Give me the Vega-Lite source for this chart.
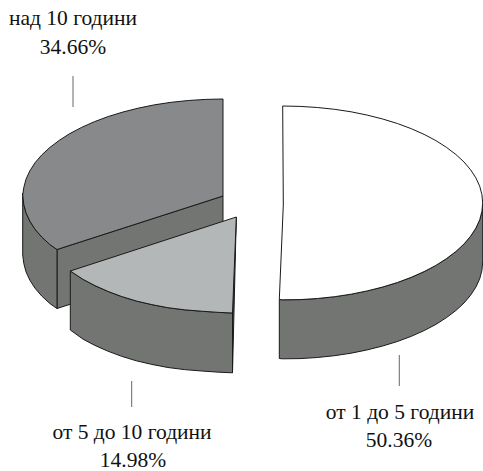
{"$schema":"https://vega.github.io/schema/vega-lite/v6.json","width":483,"height":471,"padding":0,"autosize":{"type":"none"},"background":"white","config":{"view":{"stroke":null}},
"datasets":{"outline":[
{"part":"a1","i":0,"x":482.7,"y":203},{"part":"a1","i":1,"x":481.9,"y":211.5},{"part":"a1","i":2,"x":479.7,"y":219.8},{"part":"a1","i":3,"x":475.9,"y":228.1},{"part":"a1","i":4,"x":470.6,"y":236.2},{"part":"a1","i":5,"x":464,"y":244},{"part":"a1","i":6,"x":455.9,"y":251.5},{"part":"a1","i":7,"x":446.5,"y":258.6},{"part":"a1","i":8,"x":435.9,"y":265.4},{"part":"a1","i":9,"x":424.1,"y":271.6},{"part":"a1","i":10,"x":411.3,"y":277.3},{"part":"a1","i":11,"x":397.4,"y":282.5},{"part":"a1","i":12,"x":382.7,"y":287},{"part":"a1","i":13,"x":367.2,"y":290.9},{"part":"a1","i":14,"x":351.1,"y":294.2},{"part":"a1","i":15,"x":334.5,"y":296.7},{"part":"a1","i":16,"x":317.4,"y":298.5},{"part":"a1","i":17,"x":300.1,"y":299.6},{"part":"a1","i":18,"x":282.7,"y":299.8},{"part":"a1","i":19,"x":279.3,"y":299.5},
{"part":"a1","i":20,"x":279.3,"y":358.5},{"part":"a1","i":21,"x":282.7,"y":358.8},{"part":"a1","i":22,"x":300.1,"y":358.6},{"part":"a1","i":23,"x":317.4,"y":357.5},{"part":"a1","i":24,"x":334.5,"y":355.7},{"part":"a1","i":25,"x":351.1,"y":353.2},{"part":"a1","i":26,"x":367.2,"y":349.9},{"part":"a1","i":27,"x":382.7,"y":346},{"part":"a1","i":28,"x":397.4,"y":341.5},{"part":"a1","i":29,"x":411.3,"y":336.3},{"part":"a1","i":30,"x":424.1,"y":330.6},{"part":"a1","i":31,"x":435.9,"y":324.4},{"part":"a1","i":32,"x":446.5,"y":317.6},{"part":"a1","i":33,"x":455.9,"y":310.5},{"part":"a1","i":34,"x":464,"y":303},{"part":"a1","i":35,"x":470.6,"y":295.2},{"part":"a1","i":36,"x":475.9,"y":287.1},{"part":"a1","i":37,"x":479.7,"y":278.8},{"part":"a1","i":38,"x":481.9,"y":270.5},{"part":"a1","i":39,"x":482.7,"y":262},{"part":"a1","i":40,"x":482.7,"y":203},
{"part":"a2","i":0,"x":282.7,"y":106},{"part":"a2","i":1,"x":300.1,"y":106.4},{"part":"a2","i":2,"x":317.4,"y":107.5},{"part":"a2","i":3,"x":334.5,"y":109.3},{"part":"a2","i":4,"x":351.1,"y":111.8},{"part":"a2","i":5,"x":367.2,"y":115.1},{"part":"a2","i":6,"x":382.7,"y":119},{"part":"a2","i":7,"x":397.4,"y":123.5},{"part":"a2","i":8,"x":411.3,"y":128.7},{"part":"a2","i":9,"x":424.1,"y":134.4},{"part":"a2","i":10,"x":435.9,"y":140.6},{"part":"a2","i":11,"x":446.5,"y":147.4},{"part":"a2","i":12,"x":455.9,"y":154.5},{"part":"a2","i":13,"x":464,"y":162},{"part":"a2","i":14,"x":470.6,"y":169.8},{"part":"a2","i":15,"x":475.9,"y":177.9},{"part":"a2","i":16,"x":479.7,"y":186.2},{"part":"a2","i":17,"x":481.9,"y":194.5},
{"part":"a2","i":18,"x":482.7,"y":203},{"part":"a2","i":19,"x":481.9,"y":211.5},{"part":"a2","i":20,"x":479.7,"y":219.8},{"part":"a2","i":21,"x":475.9,"y":228.1},{"part":"a2","i":22,"x":470.6,"y":236.2},{"part":"a2","i":23,"x":464,"y":244},{"part":"a2","i":24,"x":455.9,"y":251.5},{"part":"a2","i":25,"x":446.5,"y":258.6},{"part":"a2","i":26,"x":435.9,"y":265.4},{"part":"a2","i":27,"x":424.1,"y":271.6},{"part":"a2","i":28,"x":411.3,"y":277.3},{"part":"a2","i":29,"x":397.4,"y":282.5},{"part":"a2","i":30,"x":382.7,"y":287},{"part":"a2","i":31,"x":367.2,"y":290.9},{"part":"a2","i":32,"x":351.1,"y":294.2},{"part":"a2","i":33,"x":334.5,"y":296.7},{"part":"a2","i":34,"x":317.4,"y":298.5},{"part":"a2","i":35,"x":300.1,"y":299.6},{"part":"a2","i":36,"x":282.7,"y":299.8},{"part":"a2","i":37,"x":279.3,"y":299.5},{"part":"a2","i":38,"x":283.3,"y":205},{"part":"a2","i":39,"x":282.7,"y":106},
{"part":"b1","i":0,"x":57,"y":249.5},{"part":"b1","i":1,"x":223,"y":196},{"part":"b1","i":2,"x":223,"y":255},{"part":"b1","i":3,"x":57,"y":308.5},{"part":"b1","i":4,"x":57,"y":249.5},
{"part":"b2","i":0,"x":22.7,"y":193},{"part":"b2","i":1,"x":23.8,"y":204.5},{"part":"b2","i":2,"x":26,"y":212.8},{"part":"b2","i":3,"x":29.8,"y":221.1},{"part":"b2","i":4,"x":35,"y":229.2},{"part":"b2","i":5,"x":41.7,"y":237},{"part":"b2","i":6,"x":49.8,"y":244.5},{"part":"b2","i":7,"x":57,"y":249.5},{"part":"b2","i":8,"x":57,"y":308.5},{"part":"b2","i":9,"x":49.8,"y":303.5},{"part":"b2","i":10,"x":41.7,"y":296},{"part":"b2","i":11,"x":35,"y":288.2},{"part":"b2","i":12,"x":29.8,"y":280.1},{"part":"b2","i":13,"x":26,"y":271.8},{"part":"b2","i":14,"x":23.8,"y":263.5},{"part":"b2","i":15,"x":22.7,"y":255},{"part":"b2","i":16,"x":22.7,"y":193},
{"part":"b3","i":0,"x":223,"y":99},{"part":"b3","i":1,"x":205.6,"y":99.4},{"part":"b3","i":2,"x":188.3,"y":100.5},{"part":"b3","i":3,"x":171.2,"y":102.3},{"part":"b3","i":4,"x":154.6,"y":104.8},{"part":"b3","i":5,"x":138.5,"y":108.1},{"part":"b3","i":6,"x":123,"y":112},{"part":"b3","i":7,"x":108.3,"y":116.5},{"part":"b3","i":8,"x":94.4,"y":121.7},{"part":"b3","i":9,"x":81.6,"y":127.4},{"part":"b3","i":10,"x":69.8,"y":133.6},{"part":"b3","i":11,"x":59.2,"y":140.4},{"part":"b3","i":12,"x":49.8,"y":147.5},{"part":"b3","i":13,"x":41.7,"y":155},{"part":"b3","i":14,"x":35,"y":162.8},{"part":"b3","i":15,"x":29.8,"y":170.9},{"part":"b3","i":16,"x":26,"y":179.2},{"part":"b3","i":17,"x":23.8,"y":187.5},{"part":"b3","i":18,"x":22.7,"y":195},{"part":"b3","i":19,"x":23.8,"y":204.5},{"part":"b3","i":20,"x":26,"y":212.8},{"part":"b3","i":21,"x":29.8,"y":221.1},{"part":"b3","i":22,"x":35,"y":229.2},{"part":"b3","i":23,"x":41.7,"y":237},{"part":"b3","i":24,"x":49.8,"y":244.5},{"part":"b3","i":25,"x":57,"y":249.5},{"part":"b3","i":26,"x":223,"y":196},{"part":"b3","i":27,"x":223,"y":99},
{"part":"c1","i":0,"x":236.3,"y":217},{"part":"c1","i":1,"x":232.5,"y":313},{"part":"c1","i":2,"x":232.5,"y":372.8},{"part":"c1","i":3,"x":236.3,"y":217},
{"part":"c2","i":0,"x":70.3,"y":271},{"part":"c2","i":1,"x":83.1,"y":279.4},{"part":"c2","i":2,"x":94.9,"y":285.6},{"part":"c2","i":3,"x":107.7,"y":291.3},{"part":"c2","i":4,"x":121.6,"y":296.5},{"part":"c2","i":5,"x":136.3,"y":301},{"part":"c2","i":6,"x":151.8,"y":304.6},{"part":"c2","i":7,"x":167.9,"y":307.7},{"part":"c2","i":8,"x":184.5,"y":309.8},{"part":"c2","i":9,"x":201.6,"y":311.2},{"part":"c2","i":10,"x":218.9,"y":312.4},{"part":"c2","i":11,"x":232.5,"y":313},{"part":"c2","i":12,"x":232.5,"y":372.8},{"part":"c2","i":13,"x":218.9,"y":372.2},{"part":"c2","i":14,"x":201.6,"y":371},{"part":"c2","i":15,"x":184.5,"y":369.6},{"part":"c2","i":16,"x":167.9,"y":367.5},{"part":"c2","i":17,"x":151.8,"y":364.4},{"part":"c2","i":18,"x":136.3,"y":360.8},{"part":"c2","i":19,"x":121.6,"y":356.3},{"part":"c2","i":20,"x":107.7,"y":351.1},{"part":"c2","i":21,"x":94.9,"y":345.4},{"part":"c2","i":22,"x":83.1,"y":339.2},{"part":"c2","i":23,"x":70.3,"y":330},{"part":"c2","i":24,"x":70.3,"y":271},
{"part":"c3","i":0,"x":236.3,"y":217},{"part":"c3","i":1,"x":70.3,"y":271},{"part":"c3","i":2,"x":83.1,"y":279.4},{"part":"c3","i":3,"x":94.9,"y":285.6},{"part":"c3","i":4,"x":107.7,"y":291.3},{"part":"c3","i":5,"x":121.6,"y":296.5},{"part":"c3","i":6,"x":136.3,"y":301},{"part":"c3","i":7,"x":151.8,"y":304.6},{"part":"c3","i":8,"x":167.9,"y":307.7},{"part":"c3","i":9,"x":184.5,"y":309.8},{"part":"c3","i":10,"x":201.6,"y":311.2},{"part":"c3","i":11,"x":218.9,"y":312.4},{"part":"c3","i":12,"x":232.5,"y":313},{"part":"c3","i":13,"x":236.3,"y":217}
],
"leaders":[
{"id":"b","x":73,"y":76},{"id":"b","x":73,"y":107},
{"id":"c","x":131.7,"y":381},{"id":"c","x":131.7,"y":407},
{"id":"a","x":399.3,"y":355},{"id":"a","x":399.3,"y":386}
],
"labels":[
{"x":73,"y":25,"text":"над 10 години"},{"x":73,"y":54,"text":"34.66%"},
{"x":132,"y":439,"text":"от 5 до 10 години"},{"x":133,"y":467,"text":"14.98%"},
{"x":400,"y":419,"text":"от 1 до 5 години"},{"x":399,"y":447,"text":"50.36%"}
]},
"layer":[
{"data":{"name":"outline"},"mark":{"type":"line","filled":true,"stroke":"#1a1a1a","strokeWidth":1,"strokeJoin":"round"},
"encoding":{"x":{"field":"x","type":"quantitative","scale":{"domain":[0,483],"nice":false,"zero":false},"axis":null},
"y":{"field":"y","type":"quantitative","scale":{"domain":[471,0],"nice":false,"zero":false},"axis":null},
"order":{"field":"i","type":"quantitative"},"detail":{"field":"part"},
"fill":{"field":"part","type":"nominal","legend":null,"scale":{"domain":["a1","a2","b1","b2","b3","c1","c2","c3"],"range":["#737573","#ffffff","#737573","#737573","#87898b","#4a4b4a","#737573","#b4b7b8"]}}}},
{"data":{"name":"leaders"},"mark":{"type":"line","stroke":"#666666","strokeWidth":1},
"encoding":{"x":{"field":"x","type":"quantitative","axis":null},"y":{"field":"y","type":"quantitative","axis":null},"detail":{"field":"id"}}},
{"data":{"name":"labels"},"mark":{"type":"text","font":"Liberation Serif","fontSize":21.5,"align":"center","baseline":"alphabetic","color":"#111111"},
"encoding":{"x":{"field":"x","type":"quantitative","axis":null},"y":{"field":"y","type":"quantitative","axis":null},"text":{"field":"text"}}}
]}
